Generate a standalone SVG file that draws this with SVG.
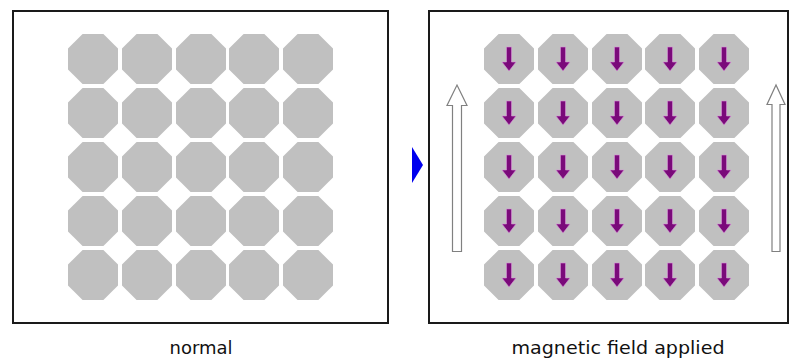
<svg xmlns="http://www.w3.org/2000/svg" xmlns:xlink="http://www.w3.org/1999/xlink" width="794" height="359" viewBox="0 0 794 359">
<style>
.panel{fill:#ffffff;stroke:#1a1a1a;stroke-width:2}
.oct{fill:#c0c0c0}
.parr{fill:#7a0a7a;stroke:#d890d8;stroke-width:0.6}
.field{fill:#ffffff;stroke:#808080;stroke-width:1.2}
.lbl{font-family:"DejaVu Sans","Liberation Sans",sans-serif;font-size:18px;fill:#111111;text-anchor:middle}
</style>
<defs>
<path id="oct" class="oct" d="M14.6,0 H35.4 L50,14.6 V35.4 L35.4,50 H14.6 L0,35.4 V14.6 Z"/>
<path id="parr" class="parr" d="M22.5,13 H27.5 V28 H32 L25,37 L18,28 H22.5 Z"/>
</defs>
<rect width="794" height="359" fill="#ffffff"/>
<g id="panel-normal">
<rect class="panel" x="13" y="11" width="375" height="312"/>
</g>
<g id="panel-field">
<rect class="panel" x="429" y="11" width="359" height="312"/>
</g>
<g id="normal-particles">
<g id="L11"><use xlink:href="#oct" x="68" y="34"/></g>
<g id="L12"><use xlink:href="#oct" x="122" y="34"/></g>
<g id="L13"><use xlink:href="#oct" x="176" y="34"/></g>
<g id="L14"><use xlink:href="#oct" x="229" y="34"/></g>
<g id="L15"><use xlink:href="#oct" x="283" y="34"/></g>
<g id="L21"><use xlink:href="#oct" x="68" y="88"/></g>
<g id="L22"><use xlink:href="#oct" x="122" y="88"/></g>
<g id="L23"><use xlink:href="#oct" x="176" y="88"/></g>
<g id="L24"><use xlink:href="#oct" x="229" y="88"/></g>
<g id="L25"><use xlink:href="#oct" x="283" y="88"/></g>
<g id="L31"><use xlink:href="#oct" x="68" y="142"/></g>
<g id="L32"><use xlink:href="#oct" x="122" y="142"/></g>
<g id="L33"><use xlink:href="#oct" x="176" y="142"/></g>
<g id="L34"><use xlink:href="#oct" x="229" y="142"/></g>
<g id="L35"><use xlink:href="#oct" x="283" y="142"/></g>
<g id="L41"><use xlink:href="#oct" x="68" y="196"/></g>
<g id="L42"><use xlink:href="#oct" x="122" y="196"/></g>
<g id="L43"><use xlink:href="#oct" x="176" y="196"/></g>
<g id="L44"><use xlink:href="#oct" x="229" y="196"/></g>
<g id="L45"><use xlink:href="#oct" x="283" y="196"/></g>
<g id="L51"><use xlink:href="#oct" x="68" y="250"/></g>
<g id="L52"><use xlink:href="#oct" x="122" y="250"/></g>
<g id="L53"><use xlink:href="#oct" x="176" y="250"/></g>
<g id="L54"><use xlink:href="#oct" x="229" y="250"/></g>
<g id="L55"><use xlink:href="#oct" x="283" y="250"/></g>
</g>
<g id="field-particles">
<g id="R11" transform="translate(484,34)"><use xlink:href="#oct"/><use xlink:href="#parr"/></g>
<g id="R12" transform="translate(538,34)"><use xlink:href="#oct"/><use xlink:href="#parr"/></g>
<g id="R13" transform="translate(592,34)"><use xlink:href="#oct"/><use xlink:href="#parr"/></g>
<g id="R14" transform="translate(645,34)"><use xlink:href="#oct"/><use xlink:href="#parr"/></g>
<g id="R15" transform="translate(699,34)"><use xlink:href="#oct"/><use xlink:href="#parr"/></g>
<g id="R21" transform="translate(484,88)"><use xlink:href="#oct"/><use xlink:href="#parr"/></g>
<g id="R22" transform="translate(538,88)"><use xlink:href="#oct"/><use xlink:href="#parr"/></g>
<g id="R23" transform="translate(592,88)"><use xlink:href="#oct"/><use xlink:href="#parr"/></g>
<g id="R24" transform="translate(645,88)"><use xlink:href="#oct"/><use xlink:href="#parr"/></g>
<g id="R25" transform="translate(699,88)"><use xlink:href="#oct"/><use xlink:href="#parr"/></g>
<g id="R31" transform="translate(484,142)"><use xlink:href="#oct"/><use xlink:href="#parr"/></g>
<g id="R32" transform="translate(538,142)"><use xlink:href="#oct"/><use xlink:href="#parr"/></g>
<g id="R33" transform="translate(592,142)"><use xlink:href="#oct"/><use xlink:href="#parr"/></g>
<g id="R34" transform="translate(645,142)"><use xlink:href="#oct"/><use xlink:href="#parr"/></g>
<g id="R35" transform="translate(699,142)"><use xlink:href="#oct"/><use xlink:href="#parr"/></g>
<g id="R41" transform="translate(484,196)"><use xlink:href="#oct"/><use xlink:href="#parr"/></g>
<g id="R42" transform="translate(538,196)"><use xlink:href="#oct"/><use xlink:href="#parr"/></g>
<g id="R43" transform="translate(592,196)"><use xlink:href="#oct"/><use xlink:href="#parr"/></g>
<g id="R44" transform="translate(645,196)"><use xlink:href="#oct"/><use xlink:href="#parr"/></g>
<g id="R45" transform="translate(699,196)"><use xlink:href="#oct"/><use xlink:href="#parr"/></g>
<g id="R51" transform="translate(484,250)"><use xlink:href="#oct"/><use xlink:href="#parr"/></g>
<g id="R52" transform="translate(538,250)"><use xlink:href="#oct"/><use xlink:href="#parr"/></g>
<g id="R53" transform="translate(592,250)"><use xlink:href="#oct"/><use xlink:href="#parr"/></g>
<g id="R54" transform="translate(645,250)"><use xlink:href="#oct"/><use xlink:href="#parr"/></g>
<g id="R55" transform="translate(699,250)"><use xlink:href="#oct"/><use xlink:href="#parr"/></g>
</g>
<g id="connectors">
<polygon id="transition-arrow" points="412,147 423,165 412,183" fill="#0000ee"/>
<path id="field-left" class="field" d="M452.5,251.5 V105.5 H447 L457,85 L467,105.5 H461.5 V251.5 Z"/>
<path id="field-right" class="field" d="M772,251.5 V104.5 H767 L776,85 L785,104.5 H780 V251.5 Z"/>
</g>
<g id="labels">
<text class="lbl" x="201" y="354" textLength="63" lengthAdjust="spacingAndGlyphs">normal</text>
<text class="lbl" x="618" y="354" textLength="213" lengthAdjust="spacingAndGlyphs">magnetic field applied</text>
</g>
</svg>
